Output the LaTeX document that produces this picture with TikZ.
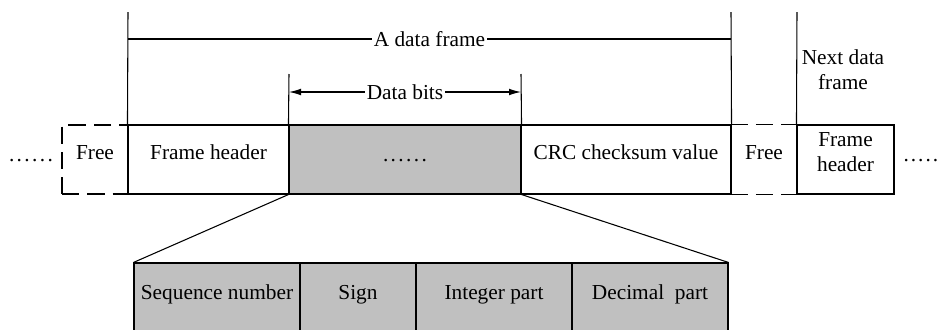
\documentclass[tikz,border=0pt]{standalone}
\usepackage{fontspec}
\setmainfont{Liberation Serif}
\usetikzlibrary{arrows.meta,fit}
\newcommand{\sixdots}{.\kern1.8pt.\kern1.8pt.\kern1.8pt.\kern1.8pt.\kern1.8pt.}
\newcommand{\fivedots}{.\kern1.5pt.\kern1.5pt.\kern1.5pt.\kern1.5pt.}
\begin{document}
\begin{tikzpicture}[x=0.75pt,y=-0.75pt,line width=0.8pt,
  every node/.style={font=\fontsize{16}{18.75}\selectfont},
  cell/.style={draw, inner sep=0pt, align=center},
  bare/.style={inner sep=0pt, align=center},
  dsh/.style={dash pattern=on 13pt off 6pt},
  lbl/.style={fill=white, inner sep=1pt}]
\useasboundingbox (0,0) rectangle (939,329);
% main row
\node[cell, dsh, fit={(62,125) (128,194)}] (free1) {Free};
\node[cell, fit={(128,125) (289,194)}] (fh) {Frame header};
\node[cell, fill={rgb,255:red,192;green,192;blue,192}, fit={(289,125) (521,194)}] (gray) {};
\node[bare] (gdots) at (405,161) {\sixdots};
\node[cell, fit={(521,125) (731,194)}] (crc) {CRC checksum value};
\node[bare, fit={(731,125) (797,194)}] (free2) {Free};
\node[cell, fit={(797,125) (894,194)}] (fh2) {Frame\\header};
\draw[dsh] (free2.north west) -- (free2.north east);
\draw[dsh] (free2.south west) -- (free2.south east);
\node[bare] (ldots) at (31,161) {\sixdots};
\node[bare, anchor=west] (rdots) at (903,161) {\fivedots};
% upper dimension lines
\coordinate (v1) at (128,12);
\coordinate (v2) at (731,12);
\coordinate (v3) at (797,12);
\coordinate (v4) at (289,74);
\coordinate (v5) at (521,74);
\draw (v1) -- (fh.north west);
\draw (v2) -- (crc.north east);
\draw (v3) -- (fh2.north west);
\draw (v4) -- (gray.north west);
\draw (v5) -- (gray.north east);
\coordinate (h1) at (128,39);
\coordinate (h2) at (731,39);
\draw (h1) -- node[lbl] (adf) {A data frame} (h2);
\coordinate (a1) at (289,92);
\coordinate (a2) at (521,92);
\draw[{Latex[length=9pt,width=5pt]}-{Latex[length=9pt,width=5pt]}] (a1) -- node[lbl] (db) {Data bits} (a2);
\node[bare] (next) at (843,70) {Next data\\frame};
% lower row
\node[cell, fill={rgb,255:red,192;green,192;blue,192}, fit={(134,263) (300,340)}] (b1) {Sequence number};
\node[cell, fill={rgb,255:red,192;green,192;blue,192}, fit={(300,263) (416,340)}] (b2) {Sign};
\node[cell, fill={rgb,255:red,192;green,192;blue,192}, fit={(416,263) (572,340)}] (b3) {Integer part};
\node[cell, fill={rgb,255:red,192;green,192;blue,192}, fit={(572,263) (728,340)}] (b4) {Decimal\ \ part};
\draw (gray.south west) -- (b1.north west);
\draw (gray.south east) -- (b4.north east);
\end{tikzpicture}
\end{document}
